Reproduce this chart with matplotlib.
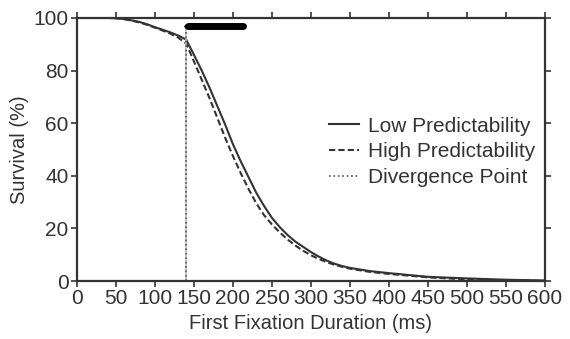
import matplotlib
matplotlib.use("Agg")
import matplotlib.pyplot as plt

plt.rcParams['font.family'] = ['Liberation Sans', 'DejaVu Sans']

# first fixation duration (ms) and survival (%)
ms = [0, 40, 50, 60, 70, 80, 90, 100, 110, 120, 130, 140, 150, 160, 170, 180,
      190, 200, 210, 220, 230, 240, 250, 260, 270, 280, 290, 300, 310, 320,
      330, 340, 350, 375, 400, 450, 500, 550, 600]
low_pred = [100, 100, 99.9, 99.6, 99.1, 98.5, 97.6, 96.5, 95.5, 94.5, 93.3, 91.8,
            86, 80, 73.5, 66.5, 59.5, 52, 45.5, 39.5, 33.5, 28.5, 24, 20.5, 17.5,
            15, 13, 11, 9.3, 7.8, 6.6, 5.7, 5, 3.8, 3, 1.6, 1, 0.5, 0.2]
high_pred = [100, 100, 99.9, 99.6, 99.0, 98.3, 97.4, 96.3, 95.2, 94, 92.5, 90.3,
             83.5, 76.5, 69.5, 62, 54.5, 47.5, 41, 35, 29.5, 25, 21.5, 18.5, 15.8,
             13.5, 11.5, 9.8, 8.4, 7.2, 6.2, 5.4, 4.7, 3.5, 2.7, 1.4, 0.6, 0.2, 0.1]

divergence = 140
sig_start, sig_end = 140, 213
sig_level = 96.8

fig = plt.figure(figsize=(5.70, 3.39), dpi=100)
ax = fig.add_axes([0.135, 0.171, 0.821, 0.776])

ax.plot(ms, low_pred, '-', color='#333333', lw=1.5, label='Low Predictability')
ax.plot(ms, high_pred, '--', color='#333333', lw=1.5, dashes=(3, 1.5),
        label='High Predictability')
ax.plot([divergence, divergence], [0, 97.3], color='#bbbbbb', lw=1.2)
ax.plot([divergence, divergence], [0, 97.3], ':', color='#555555', lw=1.2,
        label='Divergence Point')

# significance bar
ax.plot([sig_start + 2, sig_end], [sig_level, sig_level], '-', color='black',
        lw=5, solid_capstyle='round')
ax.plot([sig_start + 1.5], [sig_level], '<', color='black', markersize=4.5)

ax.set_xlim(0, 600)
ax.set_ylim(0, 100)
ax.set_xticks(range(0, 601, 50))
ax.set_yticks(range(0, 101, 20))
ax.tick_params(direction='out', length=4, width=1.2, labelsize=15, pad=2,
               colors='#333333', labelcolor='#333333',
               top=True, right=True)
for s in ax.spines.values():
    s.set_linewidth(1.6)
    s.set_color('#333333')

ax.set_xlabel('First Fixation Duration (ms)', fontsize=14.5, color='#333333', labelpad=4)
ax.set_ylabel('Survival (%)', fontsize=14.5, color='#333333', labelpad=3)

ax.legend(loc='upper left', bbox_to_anchor=(0.538, 0.625), frameon=False,
          fontsize=15, handlelength=1.45, handletextpad=0.43, labelspacing=0.32,
          borderpad=0, borderaxespad=0, labelcolor='#333333')

fig.savefig('out.png', dpi=100)
